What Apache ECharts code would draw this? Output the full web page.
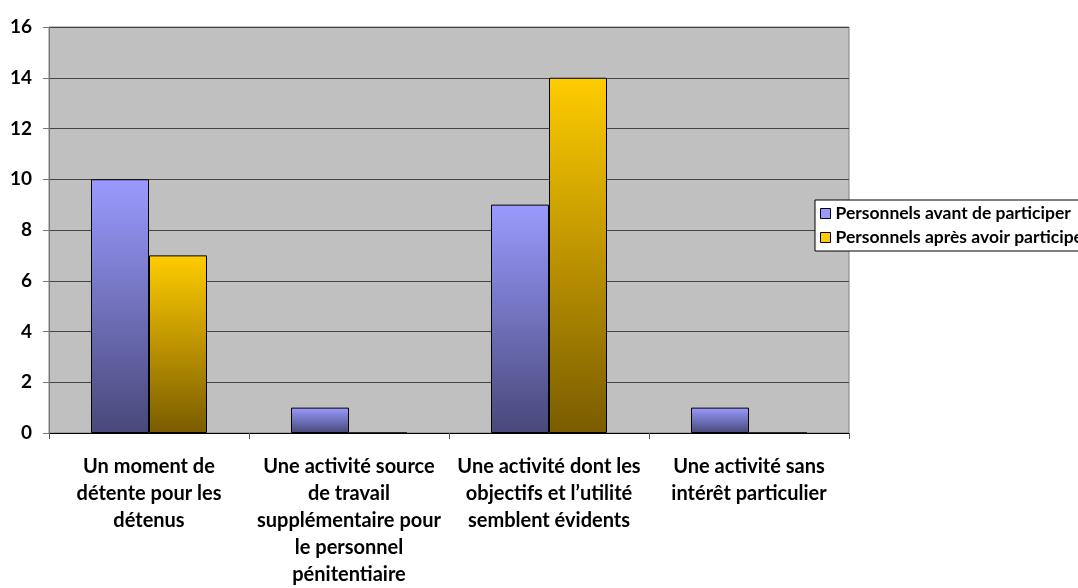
<!DOCTYPE html>
<html><head><meta charset="utf-8">
<script src="https://cdn.jsdelivr.net/npm/echarts@6/dist/echarts.min.js"></script>
<style>html,body{margin:0;padding:0;background:#fff;overflow:hidden}#c{width:1078px;height:588px}</style>
</head><body><div id="c"></div>
<script>
var categories = [
  "Un moment de\ndétente pour les\ndétenus",
  "Une activité source\nde travail\nsupplémentaire pour\nle personnel\npénitentiaire",
  "Une activité dont les\nobjectifs et l’utilité\nsemblent évidents",
  "Une activité sans\nintérêt particulier"
];
var seriesNames = ["Personnels avant de participer", "Personnels après avoir participer"];
var avant = [10, 1, 9, 1];
var apres = [7, 0, 14, 0];
var yTicks = [0, 2, 4, 6, 8, 10, 12, 14, 16];

var font = 'Lato, "Liberation Sans", sans-serif';
function grad(top, bottom) {
  return new echarts.graphic.LinearGradient(0, 0, 0, 1, [{offset: 0, color: top}, {offset: 1, color: bottom}]);
}
var chart = echarts.init(document.getElementById('c'));
chart.setOption({
  backgroundColor: '#ffffff',
  animation: false,
  grid: {left: 49, top: 27, width: 800, height: 411, show: true, backgroundColor: '#c0c0c0', borderColor: '#808080', borderWidth: 1},
  legend: {
    left: 815, top: 200, orient: 'vertical', itemWidth: 10, itemHeight: 10, itemGap: 5,
    borderColor: '#000', borderWidth: 1, backgroundColor: '#fff', padding: [4, 6, 4, 5],
    textStyle: {fontFamily: font, fontWeight: 'bold', fontSize: 17.5, color: '#000', lineHeight: 19},
    data: [
      {name: seriesNames[0], icon: 'rect', itemStyle: {color: '#9999ff', borderColor: '#000', borderWidth: 1}},
      {name: seriesNames[1], icon: 'rect', itemStyle: {color: '#ffcc00', borderColor: '#000', borderWidth: 1}}
    ]
  },
  xAxis: {
    type: 'category', data: categories,
    axisLine: {lineStyle: {color: '#000', width: 1}},
    axisTick: {show: true, length: 6, lineStyle: {color: '#555'}},
    axisLabel: {interval: 0, margin: 20, fontFamily: font, fontWeight: 'bold', fontSize: 20, color: '#000', lineHeight: 27, align: 'center'}
  },
  yAxis: {
    type: 'value', min: 0, max: 16, interval: 2,
    axisLine: {show: true, lineStyle: {color: '#777'}},
    axisTick: {show: true, length: 6, lineStyle: {color: '#777'}},
    splitLine: {lineStyle: {color: '#444', width: 1}},
    axisLabel: {margin: 17, fontFamily: font, fontWeight: 'bold', fontSize: 19, color: '#000',
      formatter: function (v) { return yTicks.indexOf(v) >= 0 ? String(v) : ''; }}
  },
  series: [
    {name: seriesNames[0], type: 'bar', data: avant, barWidth: 58, barGap: '0%',
     itemStyle: {color: grad('#9a9aff', '#48487a'), borderColor: '#000', borderWidth: 1}},
    {name: seriesNames[1], type: 'bar', data: apres, barWidth: 58,
     itemStyle: {color: grad('#ffcc00', '#7a5c00'), borderColor: '#000', borderWidth: 1}}
  ]
});
</script></body></html>
